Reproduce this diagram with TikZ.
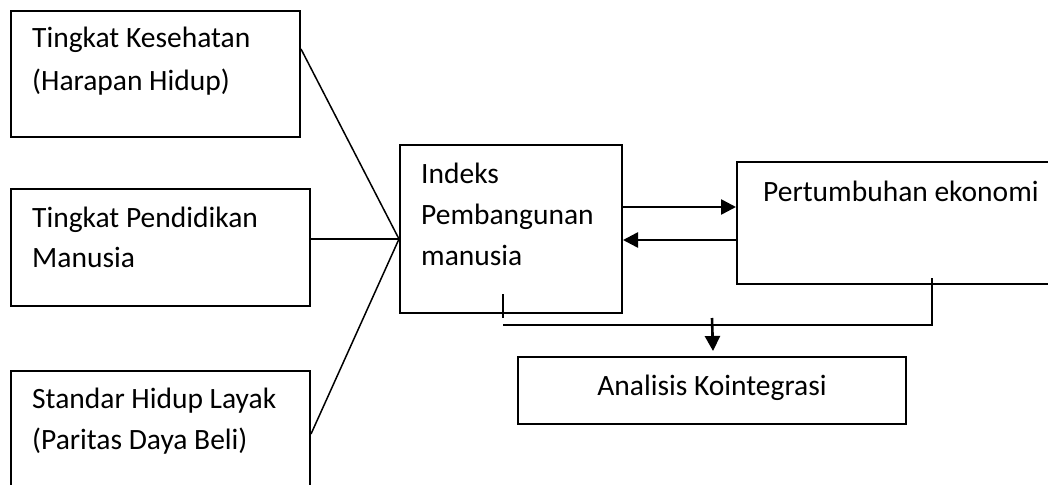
\documentclass[tikz,border=0pt]{standalone}
\usepackage{fontspec}
\setmainfont{Carlito}
\usetikzlibrary{arrows.meta}
\tikzset{
  box/.style={draw, line width=2pt, rectangle, inner sep=0pt},
  txt/.style={anchor=base west, inner sep=0pt, font=\fontsize{29.5}{34}\selectfont},
  conn/.style={line width=1.5pt},
  arr/.style={line width=2.6pt, -{Triangle[length=15pt,width=15pt]}},
  tick/.style={line width=2pt}
}
\begin{document}
\begin{tikzpicture}[x=1pt,y=-1pt]
\useasboundingbox (0,0) rectangle (1048,484);
\clip (0,0) rectangle (1048,484);
\fill[white] (0,0) rectangle (1048,484);
% boxes
\node[box, minimum width=289pt, minimum height=126pt] (b1) at (155.5,74) {};
\node[box, minimum width=299pt, minimum height=117pt] (b2) at (160.5,247.5) {};
\node[box, minimum width=299pt, minimum height=140pt] (b3) at (160.5,441) {};
\node[box, minimum width=222pt, minimum height=168pt] (ipm) at (511,229) {};
\node[box, minimum width=330pt, minimum height=122pt] (pe) at (902,223) {};
\node[box, minimum width=388pt, minimum height=67pt] (ak) at (712,390.5) {};
% texts
\node[txt] (t1a) at (32,48) {Tingkat Kesehatan};
\node[txt] (t1b) at (32,91) {(Harapan Hidup)};
\node[txt] (t2a) at (32,227) {Tingkat Pendidikan};
\node[txt] (t2b) at (32,267) {Manusia};
\node[txt] (t3a) at (32,408) {Standar Hidup Layak};
\node[txt] (t3b) at (32,449) {(Paritas Daya Beli)};
\node[txt] (tia) at (421,183) {Indeks};
\node[txt] (tib) at (421,224) {Pembangunan};
\node[txt] (tic) at (421,265) {manusia};
\node[txt] (tpe) at (763,201) {Pertumbuhan ekonomi};
\node[txt, anchor=base] (tak) at (712,395) {Analisis Kointegrasi};
% junction on ipm left side
\coordinate (j) at (ipm.west |- 0,239);
\coordinate (s1) at (b1.east |- 0,49);
\coordinate (s2) at (b2.east |- 0,239);
\coordinate (s3) at (b3.east |- 0,434);
\draw[conn] (s1) -- (j);
\draw[conn] (s2) -- (j);
\draw[conn] (s3) -- (j);
% arrows between ipm and pe
\draw[arr] (ipm.east |- 0,207) -- (pe.west |- 0,207);
\draw[arr] (pe.west |- 0,240) -- (ipm.east |- 0,240);
% bottom connectors
\coordinate (ta) at (503,294);
\coordinate (tb) at (503,318);
\coordinate (hl) at (503,325);
\coordinate (hr) at (932,325);
\coordinate (tr) at (932,278);
\draw[tick] (ta) -- (tb);
\draw[tick] (hl) -- (hr) -- (tr);
\coordinate (da) at (712,318);
\draw[arr] (da) -- ([xshift=1pt,yshift=5pt]ak.north);
\end{tikzpicture}
\end{document}
